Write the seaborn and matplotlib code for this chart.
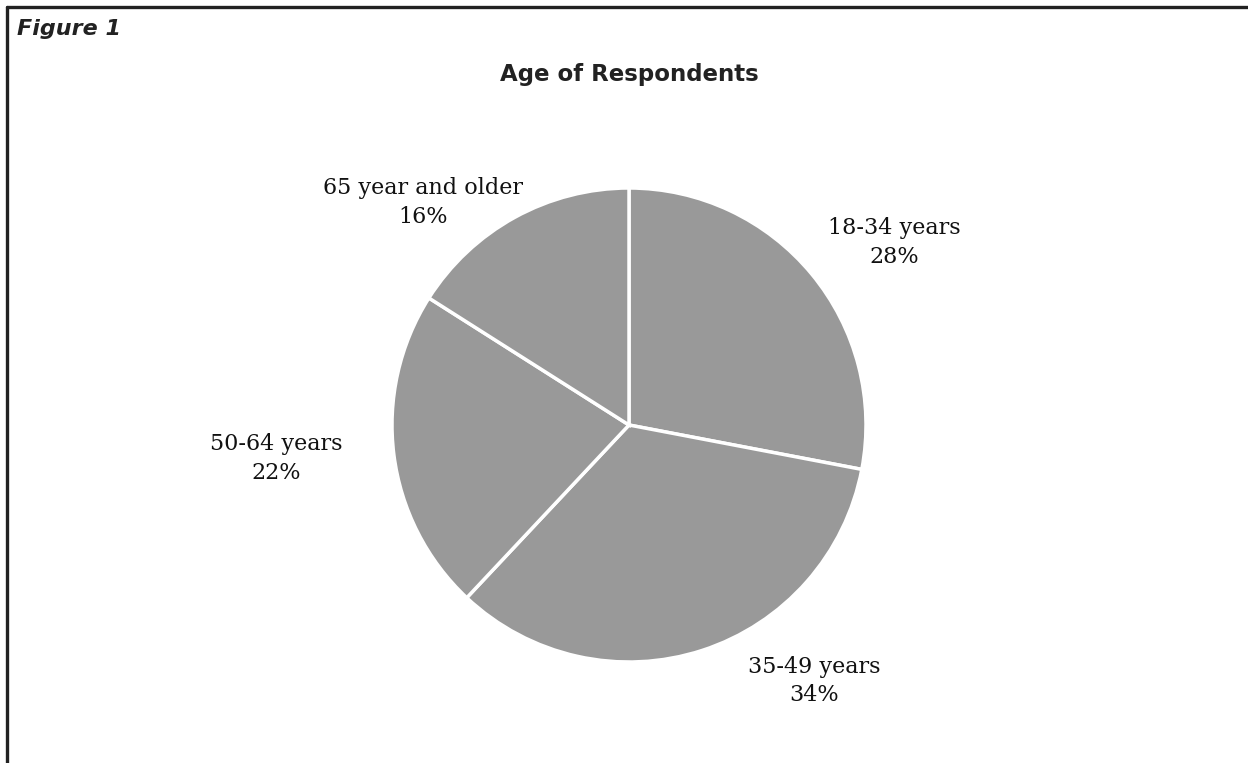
import matplotlib
matplotlib.use("Agg")
import matplotlib.pyplot as plt
import seaborn as sns
import numpy as np

sns.set_theme(style="white")

categories = ["18-34 years", "35-49 years", "50-64 years", "65 year and older"]
shares = [28, 34, 22, 16]
# label text positions (pie-radius units)
label_pos = [(1.12, 0.77), (0.78, -1.08), (-1.49, -0.14), (-0.87, 0.94)]

W, H, DPI = 1248, 763, 100
fig = plt.figure(figsize=(W / DPI, H / DPI), dpi=DPI)
ax = fig.add_axes([0, 0, 1, 1])

cx, cy, R = 629, 425, 237  # pixel centre / radius of pie
color = "#999999"
wedges, _ = ax.pie(shares, startangle=90, counterclock=False,
                   colors=[color] * len(shares),
                   wedgeprops=dict(edgecolor="white", linewidth=2.5))
ax.set_xlim(-cx / R, (W - cx) / R)
ax.set_ylim(-(H - cy) / R, cy / R)
ax.set_aspect("auto")
ax.axis("off")

for cat, val, (x, y) in zip(categories, shares, label_pos):
    ax.text(x, y, f"{cat}\n{val}%", ha="center", va="center",
            fontsize=16, family="DejaVu Serif", color="#111111",
            linespacing=1.4)

fig.text(629 / W, 1 - 75 / H, "Age of Respondents", ha="center", va="center",
         fontsize=16.5, fontweight="bold", family="DejaVu Sans", color="#222222")
fig.text(17 / W, 1 - 29 / H, "Figure 1", ha="left", va="center",
         fontsize=16, fontweight="bold", fontstyle="italic",
         family="DejaVu Sans", color="#222222")

# frame lines (top and left)
fig.add_artist(plt.Line2D([7 / W, 1], [1 - 7 / H, 1 - 7 / H], transform=fig.transFigure,
                          color="#222222", linewidth=2.4))
fig.add_artist(plt.Line2D([7 / W, 7 / W], [0, 1 - 7 / H], transform=fig.transFigure,
                          color="#222222", linewidth=2.4))

fig.savefig("out.png", dpi=DPI, facecolor="white")
